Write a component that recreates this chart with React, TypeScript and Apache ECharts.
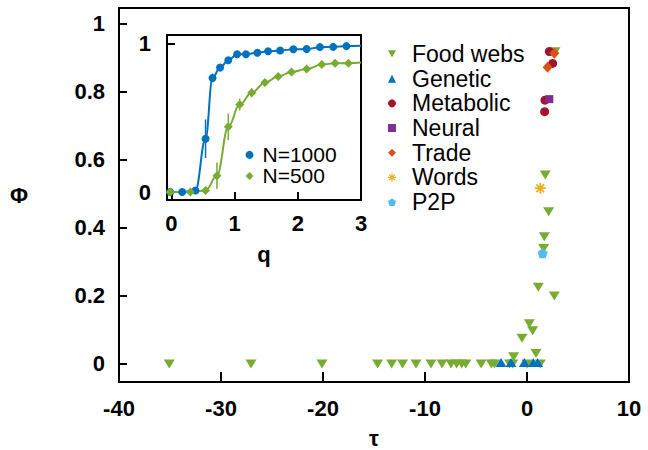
import React, { useEffect, useRef } from 'react';
import * as echarts from 'echarts';

// ---------- data ----------
const foodWebs: number[][] = [
  [-35.07, 0], [-27.06, 0], [-20.1, 0], [-14.65, 0], [-13.27, 0], [-12.2, 0], [-10.88, 0],
  [-9.41, 0], [-8.33, 0], [-7.45, 0], [-6.9, 0], [-6.4, 0], [-6.0, 0], [-4.5, 0], [-3.5, 0],
  [-3.2, 0], [-1.7, 0], [-1.4, 0], [0.0, 0], [1.3, 0],
  [-1.31, 0.021], [0.88, 0.031], [-0.49, 0.076], [0.55, 0.098], [0.23, 0.118], [2.68, 0.2],
  [1.11, 0.226], [1.63, 0.34], [1.7, 0.374], [2.12, 0.448], [1.79, 0.556], [2.74, 0.918],
];
const genetic: number[][] = [[-2.55, 0.004], [-1.57, 0.004], [-0.26, 0.004], [0.62, 0.004], [1.04, 0.004]];
const metabolic: number[][] = [[2.19, 0.919], [2.51, 0.884], [1.76, 0.776], [1.73, 0.742]];
const neural: number[][] = [[2.19, 0.779]];
const trade: number[][] = [[2.68, 0.914], [2.02, 0.873]];
const words: number[][] = [[1.3, 0.517]];
const p2p: number[][] = [[1.53, 0.326]];

const mainXTicks = [-40, -30, -20, -10, 0, 10];
const mainYTicks = [0, 0.2, 0.4, 0.6, 0.8, 1];

const q1000 = [-0.02, 0.17, 0.38, 0.54, 0.65, 0.77, 0.9, 1.04, 1.18, 1.36, 1.53, 1.72, 1.93, 2.14, 2.35, 2.56, 2.77];
const phi1000 = [0, 0, 0.01, 0.36, 0.77, 0.84, 0.89, 0.93, 0.93, 0.94, 0.95, 0.955, 0.964, 0.965, 0.978, 0.98, 0.985];
const q500 = [-0.02, 0.3, 0.54, 0.72, 0.9, 1.08, 1.27, 1.48, 1.69, 1.9, 2.14, 2.38, 2.59, 2.8];
const phi500 = [0, 0, 0.01, 0.11, 0.44, 0.59, 0.67, 0.74, 0.78, 0.81, 0.83, 0.86, 0.87, 0.87];
const curveStart1000 = [-0.07, 0];
const curveEnd1000 = [3.0, 0.987];
const curveStart500 = [-0.07, 0];
const curveEnd500 = [3.0, 0.875];
const err1000: number[][] = [[0.54, 0.36, 0.13], [0.65, 0.77, 0.03]];
const err500: number[][] = [[0.72, 0.11, 0.09], [0.9, 0.44, 0.09], [1.08, 0.59, 0.04], [1.27, 0.67, 0.03]];
const insetXTicks = [0, 1, 2, 3];
const insetYTicks = [0, 1];

// ---------- styles ----------
const C = {
  food: '#77ac30', gen: '#0072bd', met: '#a2142f', neu: '#7e2f8e',
  tra: '#d95319', wor: '#edb120', p2p: '#4dbeee',
};
const FONT = 'Liberation Sans, Arial, Helvetica, sans-serif';

const downTri = 'path://M0,0L2,0L1,1.8Z';
const pentagon = 'path://M0,-1L0.951,-0.309L0.588,0.809L-0.588,0.809L-0.951,-0.309Z';
function asteriskPath(): string {
  const pts = [[-5, -0.8], [5, -0.8], [5, 0.8], [-5, 0.8]];
  let d = '';
  for (const a of [0, 45, 90, 135]) {
    const r = (a * Math.PI) / 180, c = Math.cos(r), s = Math.sin(r);
    d += 'M' + pts.map(([x, y]) => `${(x * c - y * s).toFixed(3)},${(x * s + y * c).toFixed(3)}`).join('L') + 'Z';
  }
  return 'path://' + d;
}
const asterisk = asteriskPath();

const zip = (a: number[], b: number[]) => a.map((v, i) => [v, b[i]]);

export default function App() {
  const ref = useRef<HTMLDivElement>(null);
  useEffect(() => {
    if (!ref.current) return;
    const chart = echarts.init(ref.current, undefined, { renderer: 'svg' });

    const tickLabel = { fontFamily: FONT, fontWeight: 'bold' as const, fontSize: 22, color: '#000' };
    const nameStyle = { fontFamily: FONT, fontWeight: 'bold' as const, fontSize: 22, color: '#000' };
    const tickLine = { color: '#000', width: 2 };

    const sc = (name: string, data: number[][], symbol: string, size: any, color: string) => ({
      type: 'scatter', name, data, symbol, symbolSize: size, xAxisIndex: 0, yAxisIndex: 0,
      itemStyle: { color, opacity: 1 }, emphasis: { disabled: true }, z: 3,
    });

    const errSeries = (data: number[][], color: string) => ({
      type: 'custom', xAxisIndex: 1, yAxisIndex: 1, data, silent: true, z: 7,
      renderItem: (_p: any, api: any) => {
        const x = api.value(0), y = api.value(1), e = api.value(2);
        const a = api.coord([x, y - e]);
        const b = api.coord([x, y + e]);
        return { type: 'line', shape: { x1: a[0], y1: a[1], x2: b[0], y2: b[1] }, style: { stroke: color, lineWidth: 1.5 } };
      },
    });

    chart.setOption({
      animation: false,
      backgroundColor: '#fff',
      grid: [
        {
          left: 119, top: 8, width: 510, height: 374, show: true, borderColor: '#000', borderWidth: 2,
          backgroundColor: 'transparent', outerBoundsMode: 'none', containLabel: false,
        },
        {
          left: 167, top: 35, width: 194, height: 165, show: true, borderColor: '#000', borderWidth: 2,
          backgroundColor: '#fff', z: 5, outerBoundsMode: 'none', containLabel: false,
        },
      ],
      xAxis: [
        {
          type: 'value', gridIndex: 0, min: -40, max: 10, interval: 10,
          axisLine: { show: false, onZero: false }, splitLine: { show: false },
          axisTick: { show: true, inside: true, length: 10, customValues: mainXTicks, lineStyle: tickLine },
          axisLabel: { ...tickLabel, margin: 15, customValues: mainXTicks },
          name: 'τ', nameLocation: 'middle', nameGap: 49, nameTextStyle: { ...nameStyle, lineHeight: 14 },
        },
        {
          type: 'value', gridIndex: 1, min: -0.07, max: 3,
          axisLine: { show: false, onZero: false }, splitLine: { show: false }, z: 6,
          axisTick: { show: true, inside: true, length: 8, customValues: insetXTicks, lineStyle: tickLine },
          axisLabel: { ...tickLabel, margin: 12, customValues: insetXTicks },
          name: 'q', nameLocation: 'middle', nameGap: 43, nameTextStyle: nameStyle,
        },
      ],
      yAxis: [
        {
          type: 'value', gridIndex: 0, min: -0.053, max: 1.047,
          axisLine: { show: false, onZero: false }, splitLine: { show: false },
          axisTick: { show: true, inside: true, length: 8, customValues: mainYTicks, lineStyle: tickLine },
          axisLabel: { ...tickLabel, margin: 14, customValues: mainYTicks },
          name: 'Φ', nameLocation: 'middle', nameRotate: 0, nameGap: 91,
          nameTextStyle: { ...nameStyle, padding: [16, 0, 0, 0] },
        },
        {
          type: 'value', gridIndex: 1, min: -0.054, max: 1.06,
          axisLine: { show: false, onZero: false }, splitLine: { show: false }, z: 6,
          axisTick: { show: true, inside: true, length: 8, customValues: insetYTicks, lineStyle: tickLine },
          axisLabel: { ...tickLabel, margin: 16, customValues: insetYTicks },
        },
      ],
      legend: [
        {
          orient: 'vertical', left: 383, top: 36.6, itemWidth: 8, itemHeight: 8, itemGap: 0,
          selectedMode: false,
          textStyle: { fontFamily: FONT, fontSize: 23, color: '#000', lineHeight: 24.7, padding: [0, 0, 0, 11] },
          data: [
            { name: 'Food webs', icon: downTri },
            { name: 'Genetic', icon: 'triangle' },
            { name: 'Metabolic', icon: 'circle' },
            { name: 'Neural', icon: 'rect' },
            { name: 'Trade', icon: 'diamond' },
            { name: 'Words', icon: asterisk },
            { name: 'P2P', icon: pentagon },
          ],
        },
        {
          orient: 'vertical', left: 240.5, top: 139.4, itemWidth: 8, itemHeight: 8, itemGap: 0,
          selectedMode: false, z: 9,
          textStyle: { fontFamily: FONT, fontSize: 21, color: '#000', lineHeight: 21, padding: [0, 0, 0, 4] },
          data: [
            { name: 'N=1000', icon: 'circle' },
            { name: 'N=500', icon: 'diamond' },
          ],
        },
      ],
      series: [
        sc('Food webs', foodWebs, downTri, [11, 9], C.food),
        sc('Genetic', genetic, 'triangle', [11, 9], C.gen),
        sc('Metabolic', metabolic, 'circle', 9, C.met),
        sc('Neural', neural, 'rect', 8, C.neu),
        sc('Trade', trade, 'diamond', [10, 11], C.tra),
        sc('Words', words, asterisk, 11, C.wor),
        sc('P2P', p2p, pentagon, 10, C.p2p),
        {
          type: 'line', name: 'fit1000', xAxisIndex: 1, yAxisIndex: 1,
          data: [curveStart1000, ...zip(q1000, phi1000), curveEnd1000],
          smooth: 0.4, smoothMonotone: 'x', symbol: 'none', silent: true,
          lineStyle: { color: C.gen, width: 2 }, itemStyle: { color: C.gen }, z: 6,
        },
        {
          type: 'line', name: 'fit500', xAxisIndex: 1, yAxisIndex: 1,
          data: [curveStart500, ...zip(q500, phi500), curveEnd500],
          smooth: 0.4, smoothMonotone: 'x', symbol: 'none', silent: true,
          lineStyle: { color: C.food, width: 2 }, itemStyle: { color: C.food }, z: 6,
        },
        errSeries(err1000, C.gen),
        errSeries(err500, C.food),
        {
          type: 'scatter', name: 'N=1000', xAxisIndex: 1, yAxisIndex: 1, data: zip(q1000, phi1000),
          symbol: 'circle', symbolSize: 8, itemStyle: { color: C.gen, opacity: 1 }, z: 8, emphasis: { disabled: true },
        },
        {
          type: 'scatter', name: 'N=500', xAxisIndex: 1, yAxisIndex: 1, data: zip(q500, phi500),
          symbol: 'diamond', symbolSize: 9, itemStyle: { color: C.food, opacity: 1 }, z: 8, emphasis: { disabled: true },
        },
      ],
    });
    return () => chart.dispose();
  }, []);
  return <div ref={ref} style={{ position: 'fixed', left: 0, top: 0, width: 648, height: 450 }} />;
}
